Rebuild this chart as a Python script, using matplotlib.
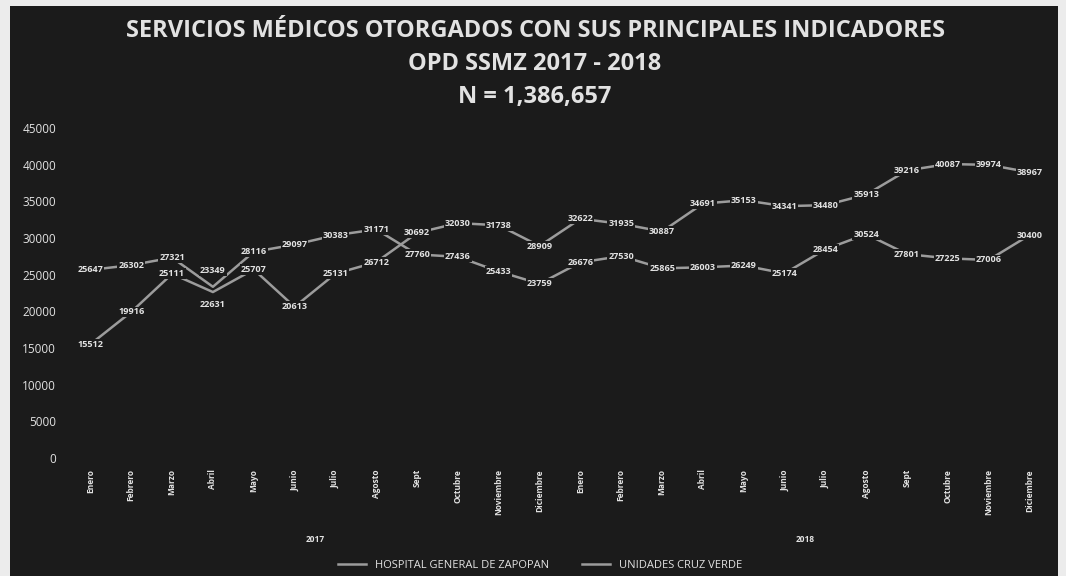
import numpy as np
import matplotlib
matplotlib.use('Agg')
import matplotlib.pyplot as plt
from matplotlib.transforms import blended_transform_factory

#monthly data (2017 then 2018)
months = ['Enero', 'Febrero', 'Marzo', 'Abril', 'Mayo', 'Junio', 'Julio',
          'Agosto', 'Sept', 'Octubre', 'Noviembre', 'Diciembre']
years = ['2017', '2018']
hospital = [25647, 26302, 27321, 23349, 28116, 29097, 30383, 31171, 27760, 27436, 25433, 23759,
            26676, 27530, 25865, 26003, 26249, 25174, 28454, 30524, 27801, 27225, 27006, 30400]
cruz_verde = [15512, 19916, 25111, 22631, 25707, 20613, 25131, 26712, 30692, 32030, 31738, 28909,
              32622, 31935, 30887, 34691, 35153, 34341, 34480, 35913, 39216, 40087, 39974, 38967]
series_names = ['HOSPITAL GENERAL DE ZAPOPAN', 'UNIDADES CRUZ VERDE']
title_lines = ['SERVICIOS MÉDICOS OTORGADOS CON SUS PRINCIPALES INDICADORES',
               'OPD SSMZ 2017 - 2018', 'N = 1,386,657']

bg = '#1b1b1b'
fg = '#e2e2e2'
line_col = '#9c9c9c'
plt.rcParams['font.family'] = ['Open Sans', 'DejaVu Sans']

fig = plt.figure(figsize=(10.66, 5.76), dpi=100, facecolor='#ececec')
#dark photocopied panel as a background axes
bg_ax = fig.add_axes([10/1066, 0, 1048/1066, 570/576], zorder=-1)
bg_ax.set_facecolor(bg)
bg_ax.set_xticks([])
bg_ax.set_yticks([])
for s in bg_ax.spines.values():
    s.set_visible(False)

ax = fig.add_axes([70/1066, 1-458/576, 980/1066, 330/576])
ax.set_facecolor('none')
x = np.arange(len(hospital))
labels = months * 2

#in april 2017 both lines nearly touch, so the labels were pushed apart (points)
label_shift = [{3: 12}, {3: -9}]

for k, (vals, name) in enumerate(zip([hospital, cruz_verde], series_names)):
    ax.plot(x, vals, color=line_col, lw=1.8, label=name, zorder=2)
    for xi, v in zip(x, vals):
        ax.annotate(str(v), (xi, v), xytext=(0, label_shift[k].get(xi, 0)), textcoords='offset points',
                    ha='center', va='center', fontsize=6.6, fontweight='bold', color=fg, zorder=3,
                    bbox=dict(boxstyle='square,pad=0.1', facecolor=bg, edgecolor='none'))

ax.set_xlim(-0.5, len(x) - 0.5)
ax.set_ylim(0, 45000)
ax.set_yticks(np.arange(0, 45001, 5000))
ax.tick_params(axis='y', colors=fg, labelsize=8.5, length=0, pad=10)
ax.set_xticks(x)
ax.set_xticklabels(labels, rotation=90, fontsize=6, fontweight='bold', color=fg, va='top')
ax.tick_params(axis='x', length=0, pad=8)
for s in ax.spines.values():
    s.set_visible(False)

#year labels under the months
tr = blended_transform_factory(ax.transData, fig.transFigure)
for i, yr in enumerate(years):
    ax.text(i*12 + 5.5, 1-540/576, yr, transform=tr, ha='center', va='center',
            fontsize=6, fontweight='bold', color=fg)

for i, line in enumerate(title_lines):
    fig.text(535/1066, 1-(31 + i*33)/576, line, ha='center', va='center',
             fontsize=17, fontweight='bold', color=fg)

leg = ax.legend(loc='center', bbox_to_anchor=(540/1066, 1-565/576), bbox_transform=fig.transFigure,
                ncol=2, frameon=False, fontsize=8, handlelength=2.5, columnspacing=3)
for t in leg.get_texts():
    t.set_color(fg)

fig.savefig('out.png', dpi=100, facecolor=fig.get_facecolor())
